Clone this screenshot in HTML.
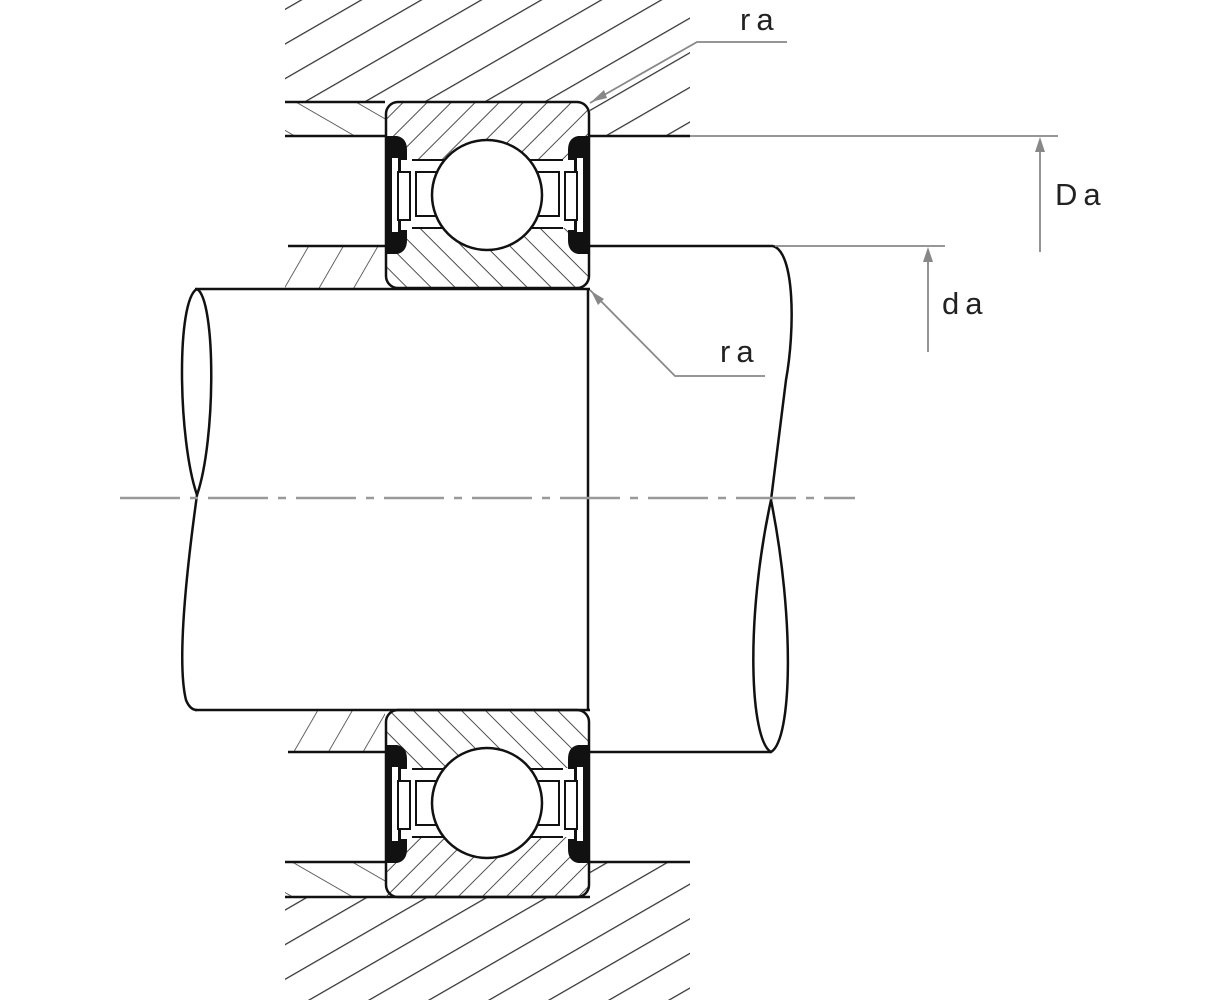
<!DOCTYPE html>
<html><head><meta charset="utf-8"><style>
html,body{margin:0;padding:0;background:#fff}
svg{display:block}
text{font-family:"Liberation Sans",sans-serif;font-size:31px;fill:#222;letter-spacing:6px}
</style></head><body>
<svg width="1223" height="1000" viewBox="0 0 1223 1000" xmlns="http://www.w3.org/2000/svg">
<defs>
<pattern id="hh" patternUnits="userSpaceOnUse" width="52" height="30" patternTransform="rotate(-30)">
<line x1="0" y1="0" x2="52" y2="0" stroke="#333" stroke-width="2.4"/></pattern>
<pattern id="bs" patternUnits="userSpaceOnUse" width="17" height="17" patternTransform="rotate(-45)">
<line x1="0" y1="0" x2="17" y2="0" stroke="#333" stroke-width="1.8"/></pattern>
<pattern id="bb" patternUnits="userSpaceOnUse" width="17" height="17" patternTransform="rotate(45)">
<line x1="0" y1="0" x2="17" y2="0" stroke="#333" stroke-width="1.8"/></pattern>
<pattern id="sa" patternUnits="userSpaceOnUse" width="30" height="30" patternTransform="rotate(-60)">
<line x1="0" y1="0" x2="30" y2="0" stroke="#333" stroke-width="1.6"/></pattern>
<pattern id="sb" patternUnits="userSpaceOnUse" width="30" height="30" patternTransform="rotate(30)">
<line x1="0" y1="0" x2="30" y2="0" stroke="#333" stroke-width="1.6"/></pattern>
<g id="seal">
<path d="M0,0 h10 q10,2 10,14 v10 h-6 v70 h6 v10 q0,12 -10,14 h-10 z" fill="#111"/>
<rect x="5" y="22" width="6" height="74" fill="#fff"/>
<rect x="11" y="36" width="12" height="48" fill="#fff" stroke="#111" stroke-width="2"/>
</g>
</defs>
<rect x="285" y="0" width="405" height="102" fill="url(#hh)"/>
<rect x="590" y="102" width="100" height="34" fill="url(#hh)"/>
<rect x="285" y="102" width="100" height="34" fill="url(#sb)"/>
<rect x="285" y="246" width="100" height="43" fill="url(#sa)"/>
<rect x="285" y="897" width="405" height="103" fill="url(#hh)"/>
<rect x="590" y="862" width="100" height="35" fill="url(#hh)"/>
<rect x="285" y="862" width="100" height="35" fill="url(#sb)"/>
<rect x="285" y="710" width="100" height="42" fill="url(#sa)"/>

<g stroke="#111" stroke-width="2.5" fill="none">
<line x1="285" y1="102" x2="385" y2="102"/>
<line x1="285" y1="136" x2="385" y2="136"/>
<line x1="590" y1="136" x2="690" y2="136"/>
<line x1="288" y1="246" x2="385" y2="246"/>
<line x1="590" y1="246" x2="773" y2="246"/>
<line x1="195" y1="289" x2="590" y2="289"/>
<line x1="195" y1="710" x2="590" y2="710"/>
<line x1="288" y1="752" x2="385" y2="752"/>
<line x1="590" y1="752" x2="771" y2="752"/>
<line x1="285" y1="862" x2="385" y2="862"/>
<line x1="590" y1="862" x2="690" y2="862"/>
<line x1="285" y1="897" x2="590" y2="897"/>
<line x1="588" y1="289" x2="588" y2="710"/>
<path d="M197,289 C176,300 178,440 197,495 C216,440 216,300 197,289"/>
<path d="M197,495 C188,560 176,660 186,700 Q190,710 197,710"/>
<path d="M773,246 C795,252 795,330 786,380 C780,430 775,470 771,500"/>
<path d="M771,500 C745,620 750,740 771,752 C792,740 795,620 771,500"/>
</g>

<g>
<rect x="386" y="102" width="203" height="58" fill="url(#bs)"/>
<rect x="386" y="228" width="203" height="60" fill="url(#bb)"/>
<rect x="386" y="102" width="203" height="186" rx="12" fill="none" stroke="#111" stroke-width="2.5"/>
<line x1="412" y1="160" x2="563" y2="160" stroke="#111" stroke-width="2"/>
<line x1="412" y1="228" x2="563" y2="228" stroke="#111" stroke-width="2"/>
<rect x="416" y="172" width="143" height="44" fill="#fff" stroke="#111" stroke-width="2"/>
<circle cx="487" cy="195" r="55" fill="#fff" stroke="#111" stroke-width="2.5"/>
<use href="#seal" x="387" y="136"/>
<use href="#seal" transform="translate(588,136) scale(-1,1)"/>
</g>
<g transform="translate(0,609)">
<rect x="386" y="101" width="203" height="58" fill="url(#bb)"/>
<rect x="386" y="228" width="203" height="60" fill="url(#bs)"/>
<rect x="386" y="101" width="203" height="187" rx="12" fill="none" stroke="#111" stroke-width="2.5"/>
<line x1="412" y1="160" x2="563" y2="160" stroke="#111" stroke-width="2"/>
<line x1="412" y1="228" x2="563" y2="228" stroke="#111" stroke-width="2"/>
<rect x="416" y="172" width="143" height="44" fill="#fff" stroke="#111" stroke-width="2"/>
<circle cx="487" cy="194" r="55" fill="#fff" stroke="#111" stroke-width="2.5"/>
<use href="#seal" x="387" y="136"/>
<use href="#seal" transform="translate(588,136) scale(-1,1)"/>
</g>

<line x1="120" y1="498" x2="855" y2="498" stroke="#999" stroke-width="2.5" stroke-dasharray="60,10,8,10"/>

<g stroke="#888" stroke-width="1.8" fill="none">
<line x1="690" y1="136" x2="1058" y2="136"/>
<line x1="775" y1="246" x2="945" y2="246"/>
<line x1="1040" y1="252" x2="1040" y2="140"/>
<line x1="928" y1="352" x2="928" y2="250"/>
<polyline points="590,103 697,42 787,42"/>
<polyline points="590,290 675,376 765,376"/>
</g>
<g fill="#888">
<polygon points="1040,137 1035,152 1045,152"/>
<polygon points="928,247 923,262 933,262"/>
<polygon points="591,102 604,90 607,98"/>
<polygon points="591,291 598,305 604,299"/>
</g>
<text x="740" y="30">ra</text>
<text x="1055" y="205">Da</text>
<text x="942" y="314">da</text>
<text x="720" y="362">ra</text>
</svg>
</body></html>
